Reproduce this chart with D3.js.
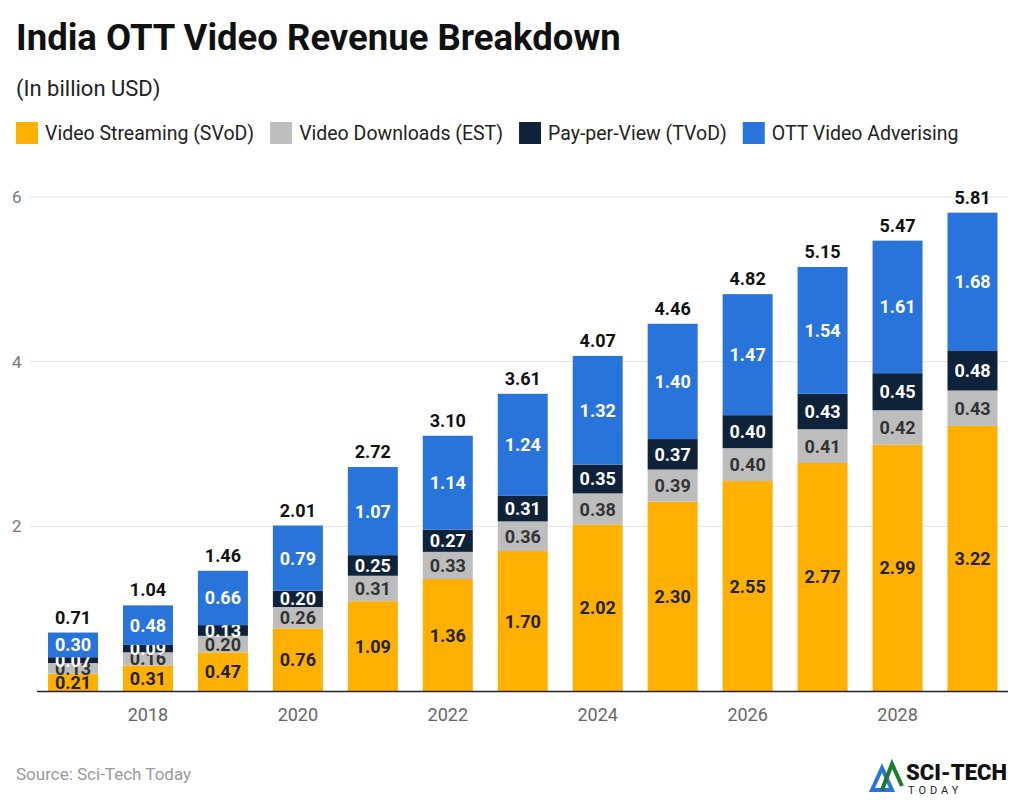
<!DOCTYPE html>
<html><head><meta charset="utf-8">
<script src="https://cdn.jsdelivr.net/npm/d3@7"></script>
<style>body{margin:0;background:#fff;font-family:Roboto,sans-serif}</style>
</head><body><svg id="c" width="1023" height="803"></svg>
<script>
const years = [2017,2018,2019,2020,2021,2022,2023,2024,2025,2026,2027,2028,2029];
const svod = [0.21,0.31,0.47,0.76,1.09,1.36,1.70,2.02,2.30,2.55,2.77,2.99,3.22];
const est = [0.13,0.16,0.20,0.26,0.31,0.33,0.36,0.38,0.39,0.40,0.41,0.42,0.43];
const tvod = [0.07,0.09,0.13,0.20,0.25,0.27,0.31,0.35,0.37,0.40,0.43,0.45,0.48];
const adv = [0.30,0.48,0.66,0.79,1.07,1.14,1.24,1.32,1.40,1.47,1.54,1.61,1.68];
const totals = [0.71,1.04,1.46,2.01,2.72,3.10,3.61,4.07,4.46,4.82,5.15,5.47,5.81];
const seriesNames = ["Video Streaming (SVoD)","Video Downloads (EST)","Pay-per-View (TVoD)","OTT Video Adverising"];
const colors = ["#FFB000","#BDBDBD","#0E223A","#2874DB"];
const textColors = ["#222","#333","#fff","#fff"];
const yTicks = [2,4,6];
const xTicks = [2018,2020,2022,2024,2026,2028];

const svg = d3.select("#c");
const table = years.map((y,i)=>({year:y,s0:svod[i],s1:est[i],s2:tvod[i],s3:adv[i]}));
const stack = d3.stack().keys(["s0","s1","s2","s3"])(table);

const x = d3.scaleBand().domain(years).range([35.5,1010]).paddingInner(0.333).paddingOuter(0.167);
const y = d3.scaleLinear().domain([0,6]).range([691,197]);

svg.append("text").attr("x",16).attr("y",50).attr("font-size",36.5).attr("font-weight",700).attr("fill","#111").text("India OTT Video Revenue Breakdown");
svg.append("text").attr("x",16).attr("y",96).attr("font-size",22).attr("fill","#222").text("(In billion USD)");

// legend
let lx = 16;
seriesNames.forEach((n,i)=>{
  svg.append("rect").attr("x",lx).attr("y",122).attr("width",22).attr("height",22).attr("fill",colors[i]);
  const t = svg.append("text").attr("x",lx+29).attr("y",140).attr("font-size",19.5).attr("fill","#222").text(n);
  lx += 29 + t.node().getComputedTextLength() + 16;
});

// grid
svg.append("g").selectAll("line").data(yTicks).join("line")
  .attr("x1",30).attr("x2",1008).attr("y1",d=>y(d)).attr("y2",d=>y(d)).attr("stroke","#e3e3e3");
svg.append("g").selectAll("text").data(yTicks).join("text")
  .attr("x",12).attr("y",d=>y(d)+6).attr("font-size",17).attr("fill","#777").text(d=>d);

stack.forEach((s,si)=>{
  const g = svg.append("g");
  g.selectAll("rect").data(s).join("rect")
    .attr("x",d=>x(d.data.year)).attr("width",x.bandwidth())
    .attr("y",d=>y(d[1])).attr("height",d=>y(d[0])-y(d[1])).attr("fill",colors[si]);
  g.selectAll("text").data(s).join("text")
    .attr("x",d=>x(d.data.year)+x.bandwidth()/2).attr("y",d=>(y(d[0])+y(d[1]))/2+6.5)
    .attr("text-anchor","middle").attr("font-size",18).attr("font-weight",700)
    .attr("fill",textColors[si]).text(d=>(d[1]-d[0]).toFixed(2));
});

svg.append("g").selectAll("text").data(years).join("text")
  .attr("x",d=>x(d)+x.bandwidth()/2).attr("y",(d,i)=>y(totals[i])-9)
  .attr("text-anchor","middle").attr("font-size",18).attr("font-weight",700).attr("fill","#111")
  .text((d,i)=>totals[i].toFixed(2));

svg.append("line").attr("x1",37).attr("x2",1008).attr("y1",691.5).attr("y2",691.5).attr("stroke","#222").attr("stroke-width",1.5);
svg.append("g").selectAll("text").data(xTicks).join("text")
  .attr("x",d=>x(d)+x.bandwidth()/2).attr("y",721).attr("text-anchor","middle")
  .attr("font-size",18).attr("fill","#666").text(d=>d);

svg.append("text").attr("x",16).attr("y",780).attr("font-size",17).attr("fill","#999").text("Source: Sci-Tech Today");

// logo
const lg = svg.append("g").attr("transform","translate(872,758)");
lg.append("path").attr("d","M0,32 L10,10 L20,32 Z").attr("fill","none").attr("stroke","#2874DB").attr("stroke-width",4);
lg.append("path").attr("d","M10,32 L20,6 L30,28").attr("fill","none").attr("stroke","#1E7B2E").attr("stroke-width",4);
lg.append("text").attr("x",34).attr("y",22).attr("font-size",22).attr("font-weight",900).attr("fill","#111").text("SCI-TECH");
lg.append("text").attr("x",36).attr("y",36).attr("font-size",11).attr("letter-spacing",4).attr("fill","#222").text("TODAY");
</script></body></html>
